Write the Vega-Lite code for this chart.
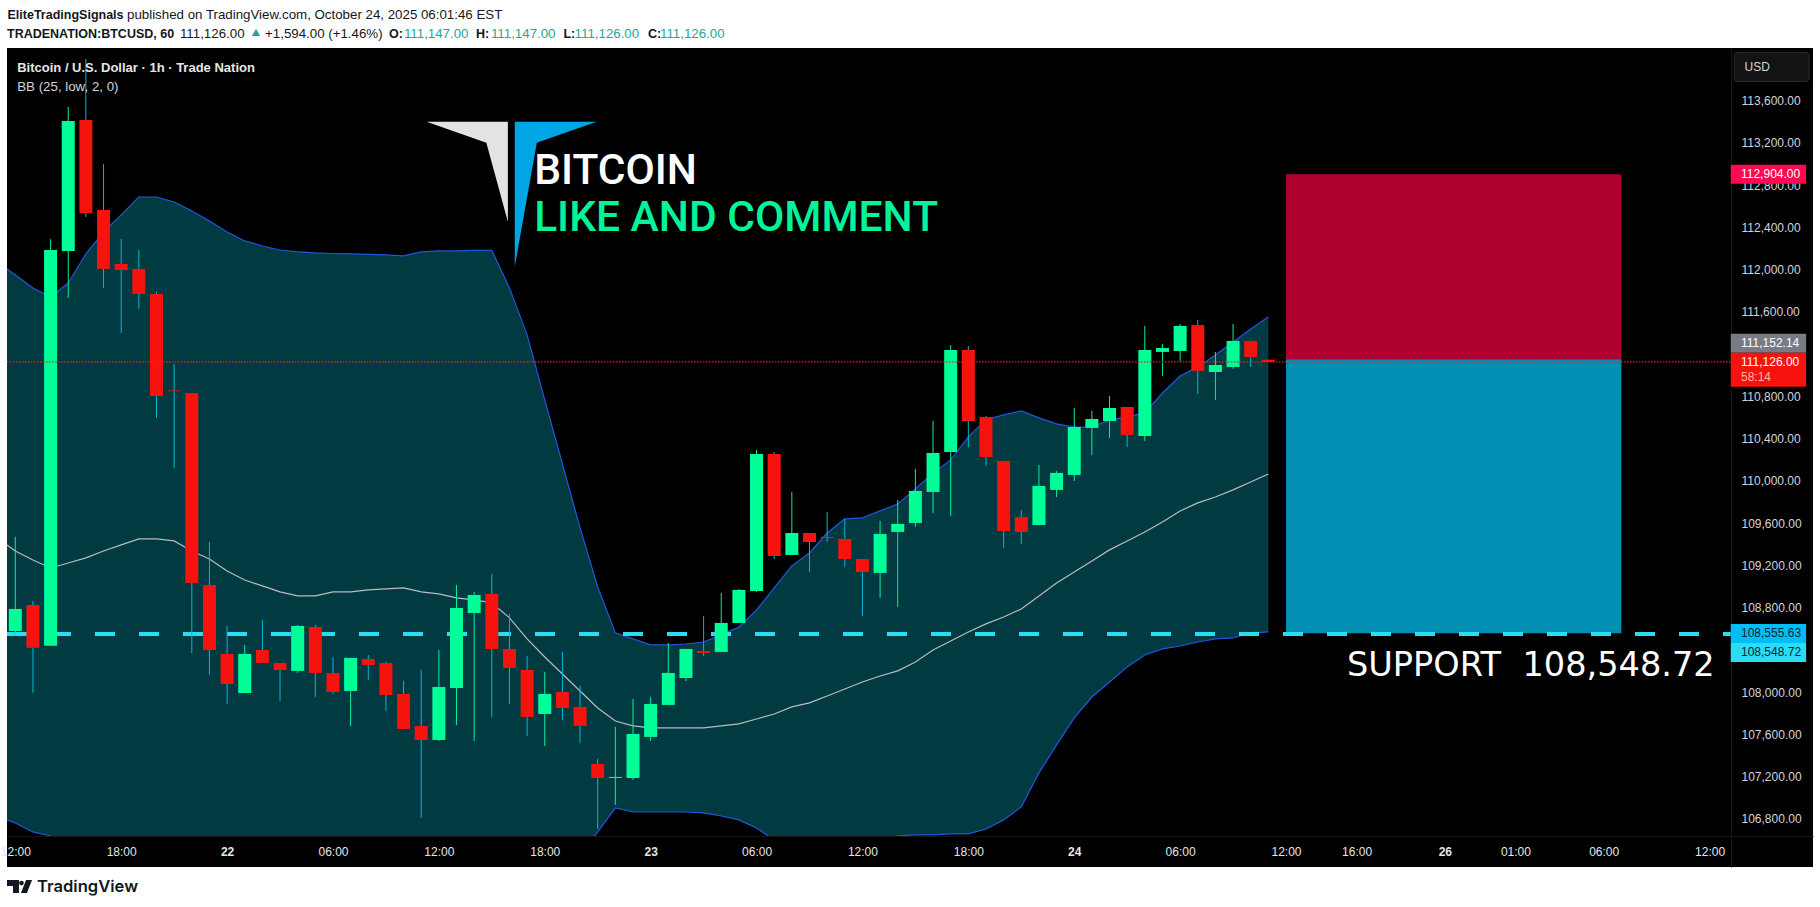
{
  "$schema": "https://vega.github.io/schema/vega-lite/v6.json",
  "autosize": "none",
  "padding": {"left": 7, "top": 48, "right": 7, "bottom": 40},
  "width": 1806,
  "height": 819,
  "background": "#ffffff",
  "datasets": {
    "candles": [
      {"bar":0,"open":108578,"high":109468,"low":108540,"close":108787},
      {"bar":1,"open":108825,"high":108862,"low":107994,"close":108420},
      {"bar":2,"open":108439,"high":112288,"low":108436,"close":112186},
      {"bar":3,"open":112177,"high":113541,"low":111732,"close":113408},
      {"bar":4,"open":113418,"high":113995,"low":112499,"close":112537},
      {"bar":5,"open":112565,"high":113001,"low":111827,"close":112007},
      {"bar":6,"open":112054,"high":112291,"low":111400,"close":111997},
      {"bar":7,"open":112007,"high":112186,"low":111628,"close":111770},
      {"bar":8,"open":111770,"high":111789,"low":110595,"close":110804},
      {"bar":9,"open":110856,"high":111107,"low":110122,"close":110848},
      {"bar":10,"open":110832,"high":110832,"low":108370,"close":109033},
      {"bar":11,"open":109014,"high":109421,"low":108162,"close":108398},
      {"bar":12,"open":108361,"high":108626,"low":107887,"close":108076},
      {"bar":13,"open":107991,"high":108446,"low":107991,"close":108361},
      {"bar":14,"open":108398,"high":108683,"low":108275,"close":108275},
      {"bar":15,"open":108275,"high":108275,"low":107915,"close":108209},
      {"bar":16,"open":108200,"high":108635,"low":108181,"close":108626},
      {"bar":17,"open":108616,"high":108635,"low":107953,"close":108181},
      {"bar":18,"open":108181,"high":108332,"low":107982,"close":108001},
      {"bar":19,"open":108010,"high":108323,"low":107679,"close":108323},
      {"bar":20,"open":108313,"high":108351,"low":108114,"close":108256},
      {"bar":21,"open":108275,"high":108285,"low":107821,"close":107972},
      {"bar":22,"open":107982,"high":108105,"low":107650,"close":107650},
      {"bar":23,"open":107679,"high":108209,"low":106807,"close":107546},
      {"bar":24,"open":107546,"high":108398,"low":107537,"close":108048},
      {"bar":25,"open":108039,"high":109014,"low":107688,"close":108796},
      {"bar":26,"open":108749,"high":108948,"low":107537,"close":108919},
      {"bar":27,"open":108929,"high":109118,"low":107764,"close":108408},
      {"bar":28,"open":108408,"high":108739,"low":107887,"close":108228},
      {"bar":29,"open":108209,"high":108342,"low":107584,"close":107764},
      {"bar":30,"open":107792,"high":108190,"low":107489,"close":107982},
      {"bar":31,"open":108001,"high":108380,"low":107736,"close":107849},
      {"bar":32,"open":107859,"high":108058,"low":107518,"close":107679},
      {"bar":33,"open":107319,"high":107366,"low":106703,"close":107186},
      {"bar":34,"open":107186,"high":107669,"low":106931,"close":107196},
      {"bar":35,"open":107186,"high":107934,"low":107167,"close":107603},
      {"bar":36,"open":107575,"high":107953,"low":107537,"close":107887},
      {"bar":37,"open":107878,"high":108465,"low":107878,"close":108181},
      {"bar":38,"open":108133,"high":108408,"low":108105,"close":108408},
      {"bar":39,"open":108389,"high":108720,"low":108342,"close":108370},
      {"bar":40,"open":108380,"high":108938,"low":108380,"close":108654},
      {"bar":41,"open":108654,"high":108976,"low":108654,"close":108967},
      {"bar":42,"open":108957,"high":110292,"low":108948,"close":110255},
      {"bar":43,"open":110255,"high":110274,"low":109260,"close":109289},
      {"bar":44,"open":109298,"high":109895,"low":109298,"close":109506},
      {"bar":45,"open":109506,"high":109506,"low":109137,"close":109421},
      {"bar":46,"open":109469,"high":109705,"low":109421,"close":109459},
      {"bar":47,"open":109450,"high":109639,"low":109184,"close":109260},
      {"bar":48,"open":109260,"high":109260,"low":108720,"close":109137},
      {"bar":49,"open":109128,"high":109620,"low":108891,"close":109497},
      {"bar":50,"open":109516,"high":109819,"low":108806,"close":109592},
      {"bar":51,"open":109601,"high":110113,"low":109563,"close":109904},
      {"bar":52,"open":109895,"high":110567,"low":109696,"close":110264},
      {"bar":53,"open":110274,"high":111287,"low":109667,"close":111239},
      {"bar":54,"open":111239,"high":111277,"low":110321,"close":110567},
      {"bar":55,"open":110605,"high":110614,"low":110141,"close":110226},
      {"bar":56,"open":110188,"high":110188,"low":109364,"close":109525},
      {"bar":57,"open":109658,"high":109724,"low":109402,"close":109516},
      {"bar":58,"open":109582,"high":110150,"low":109582,"close":109952},
      {"bar":59,"open":109914,"high":110094,"low":109847,"close":110075},
      {"bar":60,"open":110056,"high":110690,"low":109999,"close":110510},
      {"bar":61,"open":110501,"high":110662,"low":110245,"close":110586},
      {"bar":62,"open":110567,"high":110804,"low":110406,"close":110690},
      {"bar":63,"open":110700,"high":110700,"low":110321,"close":110435},
      {"bar":64,"open":110425,"high":111467,"low":110378,"close":111239},
      {"bar":65,"open":111221,"high":111296,"low":110993,"close":111258},
      {"bar":66,"open":111230,"high":111486,"low":111135,"close":111467},
      {"bar":67,"open":111476,"high":111524,"low":110823,"close":111041},
      {"bar":68,"open":111031,"high":111221,"low":110766,"close":111097},
      {"bar":69,"open":111078,"high":111486,"low":111060,"close":111325},
      {"bar":70,"open":111325,"high":111325,"low":111078,"close":111173},
      {"bar":71,"open":111147,"high":111147,"low":111126,"close":111126}
    ],
    "bands": [
      {"bar":-0.47,"upper":112007,"basis":109393,"lower":106789},
      {"bar":0,"upper":111950,"basis":109336,"lower":106760},
      {"bar":1,"upper":111827,"basis":109251,"lower":106675},
      {"bar":2,"upper":111741,"basis":109175,"lower":106637},
      {"bar":3,"upper":111874,"basis":109222,"lower":106580},
      {"bar":4,"upper":112149,"basis":109270,"lower":106523},
      {"bar":5,"upper":112357,"basis":109336,"lower":106486},
      {"bar":6,"upper":112518,"basis":109393,"lower":106448},
      {"bar":7,"upper":112688,"basis":109450,"lower":106429},
      {"bar":8,"upper":112688,"basis":109450,"lower":106410},
      {"bar":9,"upper":112641,"basis":109431,"lower":106410},
      {"bar":10,"upper":112556,"basis":109336,"lower":106410},
      {"bar":11,"upper":112461,"basis":109260,"lower":106410},
      {"bar":12,"upper":112357,"basis":109147,"lower":106410},
      {"bar":13,"upper":112272,"basis":109061,"lower":106410},
      {"bar":14,"upper":112224,"basis":109005,"lower":106410},
      {"bar":15,"upper":112186,"basis":108948,"lower":106410},
      {"bar":16,"upper":112168,"basis":108910,"lower":106410},
      {"bar":17,"upper":112158,"basis":108910,"lower":106410},
      {"bar":18,"upper":112153,"basis":108948,"lower":106410},
      {"bar":19,"upper":112149,"basis":108948,"lower":106410},
      {"bar":20,"upper":112144,"basis":108967,"lower":106410},
      {"bar":21,"upper":112139,"basis":108976,"lower":106410},
      {"bar":22,"upper":112130,"basis":108986,"lower":106410},
      {"bar":23,"upper":112168,"basis":108948,"lower":106410},
      {"bar":24,"upper":112177,"basis":108929,"lower":106410},
      {"bar":25,"upper":112177,"basis":108891,"lower":106410},
      {"bar":26,"upper":112182,"basis":108872,"lower":106410},
      {"bar":27,"upper":112182,"basis":108844,"lower":106410},
      {"bar":28,"upper":111827,"basis":108702,"lower":106410},
      {"bar":29,"upper":111382,"basis":108503,"lower":106410},
      {"bar":30,"upper":110766,"basis":108332,"lower":106410},
      {"bar":31,"upper":110160,"basis":108171,"lower":106410},
      {"bar":32,"upper":109554,"basis":108010,"lower":106457},
      {"bar":33,"upper":108995,"basis":107849,"lower":106675},
      {"bar":34,"upper":108560,"basis":107726,"lower":106902},
      {"bar":35,"upper":108503,"basis":107679,"lower":106864},
      {"bar":36,"upper":108446,"basis":107660,"lower":106864},
      {"bar":37,"upper":108446,"basis":107660,"lower":106864},
      {"bar":38,"upper":108455,"basis":107660,"lower":106864},
      {"bar":39,"upper":108474,"basis":107660,"lower":106855},
      {"bar":40,"upper":108541,"basis":107679,"lower":106826},
      {"bar":41,"upper":108616,"basis":107698,"lower":106789},
      {"bar":42,"upper":108777,"basis":107745,"lower":106713},
      {"bar":43,"upper":108986,"basis":107792,"lower":106599},
      {"bar":44,"upper":109194,"basis":107859,"lower":106552},
      {"bar":45,"upper":109317,"basis":107897,"lower":106504},
      {"bar":46,"upper":109506,"basis":107963,"lower":106476},
      {"bar":47,"upper":109639,"basis":108029,"lower":106467},
      {"bar":48,"upper":109649,"basis":108095,"lower":106486},
      {"bar":49,"upper":109715,"basis":108152,"lower":106552},
      {"bar":50,"upper":109781,"basis":108200,"lower":106637},
      {"bar":51,"upper":109923,"basis":108285,"lower":106647},
      {"bar":52,"upper":110075,"basis":108398,"lower":106647},
      {"bar":53,"upper":110198,"basis":108484,"lower":106656},
      {"bar":54,"upper":110416,"basis":108569,"lower":106656},
      {"bar":55,"upper":110577,"basis":108645,"lower":106703},
      {"bar":56,"upper":110624,"basis":108711,"lower":106789},
      {"bar":57,"upper":110662,"basis":108787,"lower":106912},
      {"bar":58,"upper":110596,"basis":108910,"lower":107234},
      {"bar":59,"upper":110539,"basis":109033,"lower":107499},
      {"bar":60,"upper":110510,"basis":109137,"lower":107755},
      {"bar":61,"upper":110510,"basis":109241,"lower":107953},
      {"bar":62,"upper":110577,"basis":109346,"lower":108095},
      {"bar":63,"upper":110605,"basis":109431,"lower":108238},
      {"bar":64,"upper":110643,"basis":109516,"lower":108351},
      {"bar":65,"upper":110832,"basis":109611,"lower":108408},
      {"bar":66,"upper":110993,"basis":109715,"lower":108436},
      {"bar":67,"upper":111079,"basis":109791,"lower":108474},
      {"bar":68,"upper":111192,"basis":109847,"lower":108503},
      {"bar":69,"upper":111315,"basis":109914,"lower":108512},
      {"bar":70,"upper":111438,"basis":109989,"lower":108559},
      {"bar":71,"upper":111552,"basis":110065,"lower":108569}
    ],
    "tags": [
      {"tag":"stop","from":97.2,"to":101.47,"at":97.78,"level":112904,"label":"112,904.00"},
      {"tag":"last","from":97.2,"to":101.47,"at":97.78,"level":111302,"label":"111,152.14"},
      {"tag":"entry","from":97.2,"to":101.47,"at":97.78,"level":108555,"label":"108,555.63"},
      {"tag":"support","from":97.2,"to":101.47,"at":97.78,"level":108375,"label":"108,548.72"}
    ]
  },
  "encoding": {
    "x": {"field": "bar", "type": "quantitative", "title": null}
  },
  "layer": [
    {
      "data": {"name": "bands"},
      "mark": {"type": "area", "color": "#023a42"},
      "encoding": {
        "x": {
          "field": "bar",
          "type": "quantitative",
          "title": null,
          "scale": {"domain": [-0.47, 101.86], "nice": false, "zero": false, "padding": 0},
          "axis": {
            "orient": "bottom",
            "offset": -31,
            "zindex": 1,
            "grid": false,
            "ticks": false,
            "domainColor": "#161616",
            "labelColor": "#e6e6e6",
            "labelFont": "Liberation Sans",
            "labelFontSize": 12,
            "labelPadding": 15,
            "labelBaseline": "middle",
            "labelOverlap": false,
            "labelBound": false,
            "labelFlush": false,
            "values": [0,6,12,18,24,30,36,42,48,54,60,66,72,76,81,85,90,96],
            "labelExpr": "{'0':'12:00','6':'18:00','12':'22','18':'06:00','24':'12:00','30':'18:00','36':'23','42':'06:00','48':'12:00','54':'18:00','60':'24','66':'06:00','72':'12:00','76':'16:00','81':'26','85':'01:00','90':'06:00','96':'12:00'}[datum.value]",
            "labelFontWeight": {"condition": {"test": "indexof([12,36,60,81],datum.value)>=0", "value": "bold"}, "value": "normal"}
          }
        },
        "y": {
          "field": "upper",
          "type": "quantitative",
          "title": null,
          "scale": {"domain": [106343, 114099], "nice": false, "zero": false, "padding": 0},
          "axis": {
            "orient": "right",
            "offset": -82,
            "zindex": 0,
            "grid": false,
            "ticks": false,
            "domainColor": "#161616",
            "labelColor": "#d1d4dc",
            "labelFont": "Liberation Sans",
            "labelFontSize": 12,
            "labelPadding": 10,
            "labelAlign": "left",
            "labelOverlap": false,
            "format": ",.2f",
            "values": [106800,107200,107600,108000,108800,109200,109600,110000,110400,110800,111600,112000,112400,112800,113200,113600]
          }
        },
        "y2": {"field": "lower"}
      }
    },
    {
      "data": {"name": "bands"},
      "mark": {"type": "line", "color": "#2257dc", "strokeWidth": 1.2},
      "encoding": {"y": {"field": "upper", "type": "quantitative", "title": null}}
    },
    {
      "data": {"name": "bands"},
      "mark": {"type": "line", "color": "#2257dc", "strokeWidth": 1.2},
      "encoding": {"y": {"field": "lower", "type": "quantitative", "title": null}}
    },
    {
      "data": {"name": "bands"},
      "mark": {"type": "line", "color": "#b8bcc0", "strokeWidth": 1.2},
      "encoding": {"y": {"field": "basis", "type": "quantitative", "title": null}}
    },
    {
      "data": {"values": [{"from": 72, "to": 91, "top": 112904, "bottom": 111152.14}]},
      "mark": {"type": "rect", "color": "#b00030"},
      "encoding": {
        "x": {"field": "from", "type": "quantitative", "title": null},
        "x2": {"field": "to"},
        "y": {"field": "top", "type": "quantitative", "title": null},
        "y2": {"field": "bottom"}
      }
    },
    {
      "data": {"values": [{"from": 72, "to": 91, "top": 111152.14, "bottom": 108555.63}]},
      "mark": {"type": "rect", "color": "#008eb3"},
      "encoding": {
        "x": {"field": "from", "type": "quantitative", "title": null},
        "x2": {"field": "to"},
        "y": {"field": "top", "type": "quantitative", "title": null},
        "y2": {"field": "bottom"}
      }
    },
    {
      "data": {"values": [{"from": -0.47, "to": 97.2, "top": 106636, "bottom": 106343}]},
      "mark": {"type": "rect", "color": "#000000"},
      "encoding": {
        "x": {"field": "from", "type": "quantitative", "title": null},
        "x2": {"field": "to"},
        "y": {"field": "top", "type": "quantitative", "title": null},
        "y2": {"field": "bottom"}
      }
    },
    {
      "data": {"values": [{"from": -0.47, "to": 97.2, "price": 108548.72}]},
      "mark": {"type": "rule", "color": "#2bdcf5", "strokeWidth": 4, "strokeDash": [20, 24]},
      "encoding": {
        "x": {"field": "from", "type": "quantitative", "title": null},
        "x2": {"field": "to"},
        "y": {"field": "price", "type": "quantitative", "title": null}
      }
    },
    {
      "data": {"name": "candles"},
      "mark": {"type": "rule", "strokeWidth": 1},
      "encoding": {
        "y": {"field": "low", "type": "quantitative", "title": null},
        "y2": {"field": "high"},
        "color": {"condition": {"test": "datum.close>=datum.open", "value": "#00f098"}, "value": "#00b8d4"}
      }
    },
    {
      "data": {"name": "candles"},
      "mark": {"type": "bar", "width": 13},
      "encoding": {
        "y": {"field": "open", "type": "quantitative", "title": null},
        "y2": {"field": "close"},
        "color": {"condition": {"test": "datum.close>=datum.open", "value": "#00ff97"}, "value": "#f7130d"}
      }
    },
    {
      "data": {"values": [{"from": -0.47, "to": 97.2, "price": 111126}]},
      "mark": {"type": "rule", "color": "#ff1a10", "strokeWidth": 1.3, "strokeDash": [1.5, 1.5]},
      "encoding": {
        "x": {"field": "from", "type": "quantitative", "title": null},
        "x2": {"field": "to"},
        "y": {"field": "price", "type": "quantitative", "title": null}
      }
    },
    {
      "data": {"values": [
        {"bar": 23.31, "top": 113401, "bottom": 113401},
        {"bar": 26.69, "top": 113401, "bottom": 113202},
        {"bar": 27.91, "top": 113401, "bottom": 112454}
      ]},
      "mark": {"type": "area", "color": "#e3e3e3"},
      "encoding": {
        "y": {"field": "top", "type": "quantitative", "title": null},
        "y2": {"field": "bottom"}
      }
    },
    {
      "data": {"values": [
        {"bar": 28.3, "top": 113401, "bottom": 112028},
        {"bar": 29.55, "top": 113401, "bottom": 113202},
        {"bar": 32.94, "top": 113401, "bottom": 113401}
      ]},
      "mark": {"type": "area", "color": "#00a5e5"},
      "encoding": {
        "y": {"field": "top", "type": "quantitative", "title": null},
        "y2": {"field": "bottom"}
      }
    },
    {
      "data": {"values": [{"bar": 29.4, "price": 112936, "label": "BITCOIN"}]},
      "mark": {"type": "text", "align": "left", "baseline": "middle", "font": "Roboto", "fontSize": 42.5, "fontWeight": 500, "color": "#ffffff"},
      "encoding": {
        "y": {"field": "price", "type": "quantitative", "title": null},
        "text": {"field": "label"}
      }
    },
    {
      "data": {"values": [{"bar": 29.4, "price": 112491, "label": "LIKE AND COMMENT"}]},
      "mark": {"type": "text", "align": "left", "baseline": "middle", "font": "Roboto", "fontSize": 42.5, "fontWeight": 500, "color": "#00f59a"},
      "encoding": {
        "y": {"field": "price", "type": "quantitative", "title": null},
        "text": {"field": "label"}
      }
    },
    {
      "data": {"values": [{"bar": 75.45, "price": 108247, "label": "SUPPORT\u00a0\u00a0108,548.72"}]},
      "mark": {"type": "text", "align": "left", "baseline": "middle", "font": "DejaVu Sans", "fontSize": 33.6, "color": "#ffffff"},
      "encoding": {
        "y": {"field": "price", "type": "quantitative", "title": null},
        "text": {"field": "label"}
      }
    },
    {
      "data": {"values": [{"bar": 0.11, "price": 113912, "label": "Bitcoin / U.S. Dollar · 1h · Trade Nation"}]},
      "mark": {"type": "text", "align": "left", "baseline": "middle", "font": "Liberation Sans", "fontSize": 13, "fontWeight": "bold", "color": "#e6e6e6"},
      "encoding": {
        "y": {"field": "price", "type": "quantitative", "title": null},
        "text": {"field": "label"}
      }
    },
    {
      "data": {"values": [{"bar": 0.11, "price": 113730, "label": "BB (25, low, 2, 0)"}]},
      "mark": {"type": "text", "align": "left", "baseline": "middle", "font": "Liberation Sans", "fontSize": 13.3, "color": "#d1d4dc"},
      "encoding": {
        "y": {"field": "price", "type": "quantitative", "title": null},
        "text": {"field": "label"}
      }
    },
    {
      "data": {"values": [
        {"bar": -0.44, "price": 114411, "label": "EliteTradingSignals"},
        {"bar": -0.47, "price": 114234, "label": "TRADENATION:BTCUSD, 60"},
        {"bar": 21.17, "price": 114234, "label": "O:"},
        {"bar": 26.1, "price": 114234, "label": "H:"},
        {"bar": 31.06, "price": 114234, "label": "L:"},
        {"bar": 35.85, "price": 114234, "label": "C:"}
      ]},
      "mark": {"type": "text", "align": "left", "baseline": "middle", "font": "Liberation Sans", "fontSize": 12.5, "fontWeight": "bold", "color": "#131722"},
      "encoding": {
        "y": {"field": "price", "type": "quantitative", "title": null},
        "text": {"field": "label"}
      }
    },
    {
      "data": {"values": [
        {"bar": 6.33, "price": 114411, "label": "published on TradingView.com, October 24, 2025 06:01:46 EST"},
        {"bar": 9.33, "price": 114234, "label": "111,126.00"},
        {"bar": 14.15, "price": 114234, "label": "+1,594.00 (+1.46%)"}
      ]},
      "mark": {"type": "text", "align": "left", "baseline": "middle", "font": "Liberation Sans", "fontSize": 13.3, "color": "#131722"},
      "encoding": {
        "y": {"field": "price", "type": "quantitative", "title": null},
        "text": {"field": "label"}
      }
    },
    {
      "data": {"values": [
        {"bar": 22.02, "price": 114234, "label": "111,147.00"},
        {"bar": 26.95, "price": 114234, "label": "111,147.00"},
        {"bar": 31.69, "price": 114234, "label": "111,126.00"},
        {"bar": 36.53, "price": 114234, "label": "111,126.00"}
      ]},
      "mark": {"type": "text", "align": "left", "baseline": "middle", "font": "Liberation Sans", "fontSize": 13.3, "color": "#26a69a"},
      "encoding": {
        "y": {"field": "price", "type": "quantitative", "title": null},
        "text": {"field": "label"}
      }
    },
    {
      "data": {"values": [{"bar": 13.64, "price": 114246}]},
      "mark": {"type": "point", "shape": "triangle-up", "filled": true, "size": 70, "color": "#26a69a", "opacity": 1},
      "encoding": {"y": {"field": "price", "type": "quantitative", "title": null}}
    },
    {
      "data": {"values": [
        {"part": "a", "bar": -0.47, "top": 106220, "bottom": 106163},
        {"part": "a", "bar": -0.13, "top": 106220, "bottom": 106163},
        {"part": "a", "bar": -0.13, "top": 106220, "bottom": 106097},
        {"part": "a", "bar": 0.21, "top": 106220, "bottom": 106097},
        {"part": "b", "bar": 0.32, "top": 106097, "bottom": 106097},
        {"part": "b", "bar": 0.61, "top": 106220, "bottom": 106097},
        {"part": "b", "bar": 0.66, "top": 106220, "bottom": 106097},
        {"part": "b", "bar": 0.95, "top": 106220, "bottom": 106220}
      ]},
      "mark": {"type": "area", "color": "#131722"},
      "encoding": {
        "y": {"field": "top", "type": "quantitative", "title": null},
        "y2": {"field": "bottom"},
        "detail": {"field": "part"}
      }
    },
    {
      "data": {"values": [{"bar": 0.35, "price": 106191}]},
      "mark": {"type": "point", "shape": "circle", "filled": true, "size": 22, "color": "#131722", "opacity": 1},
      "encoding": {"y": {"field": "price", "type": "quantitative", "title": null}}
    },
    {
      "data": {"values": [{"bar": 1.23, "price": 106154, "label": "TradingView"}]},
      "mark": {"type": "text", "align": "left", "baseline": "middle", "font": "Inter", "fontSize": 16.6, "fontWeight": 600, "color": "#131722"},
      "encoding": {
        "y": {"field": "price", "type": "quantitative", "title": null},
        "text": {"field": "label"}
      }
    },
    {
      "data": {"values": [{"from": 97.39, "to": 101.64, "price": 113920}]},
      "mark": {"type": "bar", "height": 29, "fill": "#131313", "stroke": "#2a2e39", "cornerRadius": 3},
      "encoding": {
        "x": {"field": "from", "type": "quantitative", "title": null},
        "x2": {"field": "to"},
        "y": {"field": "price", "type": "quantitative", "title": null}
      }
    },
    {
      "data": {"values": [{"bar": 97.98, "price": 113920, "label": "USD"}]},
      "mark": {"type": "text", "align": "left", "baseline": "middle", "font": "Liberation Sans", "fontSize": 12, "color": "#d1d4dc"},
      "encoding": {
        "y": {"field": "price", "type": "quantitative", "title": null},
        "text": {"field": "label"}
      }
    },
    {
      "data": {"name": "tags"},
      "mark": {"type": "bar", "height": 19},
      "encoding": {
        "x": {"field": "from", "type": "quantitative", "title": null},
        "x2": {"field": "to"},
        "y": {"field": "level", "type": "quantitative", "title": null},
        "color": {
          "condition": [
            {"test": "datum.tag==='stop'", "value": "#ff0a50"},
            {"test": "datum.tag==='last'", "value": "#787b86"},
            {"test": "datum.tag==='entry'", "value": "#00bdf7"}
          ],
          "value": "#2bdcf5"
        }
      }
    },
    {
      "data": {"values": [{"from": 97.2, "to": 101.47, "level": 111053}]},
      "mark": {"type": "bar", "height": 34, "color": "#f7130d"},
      "encoding": {
        "x": {"field": "from", "type": "quantitative", "title": null},
        "x2": {"field": "to"},
        "y": {"field": "level", "type": "quantitative", "title": null}
      }
    },
    {
      "data": {"name": "tags"},
      "mark": {"type": "text", "align": "left", "baseline": "middle", "font": "Liberation Sans", "fontSize": 12},
      "encoding": {
        "x": {"field": "at", "type": "quantitative", "title": null},
        "y": {"field": "level", "type": "quantitative", "title": null},
        "text": {"field": "label"},
        "color": {
          "condition": {"test": "datum.tag==='entry'||datum.tag==='support'", "value": "#0b2530"},
          "value": "#ffffff"
        }
      }
    },
    {
      "data": {"values": [{"bar": 97.78, "level": 111129, "label": "111,126.00"}]},
      "mark": {"type": "text", "align": "left", "baseline": "middle", "font": "Liberation Sans", "fontSize": 12, "color": "#ffffff"},
      "encoding": {
        "y": {"field": "level", "type": "quantitative", "title": null},
        "text": {"field": "label"}
      }
    },
    {
      "data": {"values": [{"bar": 97.78, "level": 110987, "label": "58:14"}]},
      "mark": {"type": "text", "align": "left", "baseline": "middle", "font": "Liberation Sans", "fontSize": 12, "color": "#ffb3ad"},
      "encoding": {
        "y": {"field": "level", "type": "quantitative", "title": null},
        "text": {"field": "label"}
      }
    }
  ],
  "config": {
    "view": {"fill": "#000000", "stroke": null}
  }
}
